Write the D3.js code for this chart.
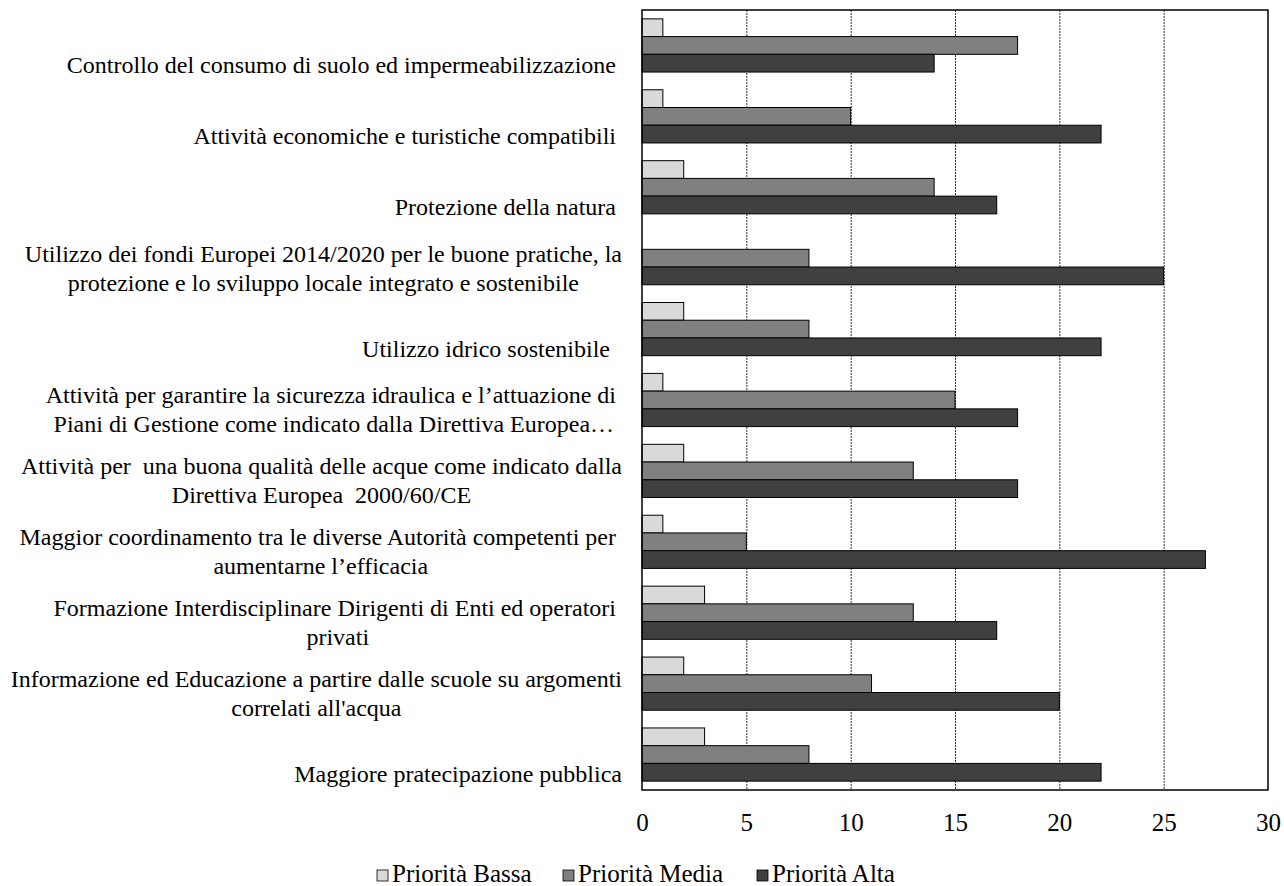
<!DOCTYPE html>
<html>
<head>
<meta charset="utf-8">
<script src="https://cdn.jsdelivr.net/npm/d3@7"></script>
<style>
  html, body { margin: 0; padding: 0; background: #fff; }
  svg text { font-family: "Liberation Serif", "Times New Roman", serif; fill: #000; white-space: pre; }
</style>
</head>
<body>
<svg id="chart" width="1284" height="886"></svg>
<script>
// Survey answers: number of respondents per priority level for each action
const categories = [
  ["Controllo del consumo di suolo ed impermeabilizzazione "],
  ["Attività economiche e turistiche compatibili "],
  ["Protezione della natura "],
  ["Utilizzo dei fondi Europei 2014/2020 per le buone pratiche, la", "protezione e lo sviluppo locale integrato e sostenibile"],
  ["Utilizzo idrico sostenibile  "],
  ["Attività per garantire la sicurezza idraulica e l’attuazione di ", "Piani di Gestione come indicato dalla Direttiva Europea…"],
  ["Attività per  una buona qualità delle acque come indicato dalla", "Direttiva Europea  2000/60/CE"],
  ["Maggior coordinamento tra le diverse Autorità competenti per ", "aumentarne l’efficacia"],
  ["Formazione Interdisciplinare Dirigenti di Enti ed operatori ", "privati"],
  ["Informazione ed Educazione a partire dalle scuole su argomenti", "correlati all'acqua"],
  ["Maggiore pratecipazione pubblica"]
];
const seriesNames = ["Priorità Bassa", "Priorità Media", "Priorità Alta"];
const bassa = [1, 1, 2, 0, 2, 1, 2, 1, 3, 2, 3];
const media = [18, 10, 14, 8, 8, 15, 13, 5, 13, 11, 8];
const alta  = [14, 22, 17, 25, 22, 18, 18, 27, 17, 20, 22];
const xTicks = [0, 5, 10, 15, 20, 25, 30];
const colors = ["#d9d9d9", "#808080", "#404040"];

const series = [bassa, media, alta];
const svg = d3.select("#chart");

const plot = { left: 642, right: 1268, top: 10, bottom: 790 };
const fontSize = 24;

const x = d3.scaleLinear().domain([0, 30]).range([plot.left, plot.right]);
const y = d3.scaleBand().domain(d3.range(categories.length))
  .range([plot.top, plot.bottom]).paddingInner(0.25).paddingOuter(0.125);
const ySub = d3.scaleBand().domain(d3.range(series.length)).range([0, y.bandwidth()]);

// vertical gridlines
svg.append("g").selectAll("line")
  .data(xTicks.filter(t => t > 0 && t < 30))
  .join("line")
  .attr("x1", d => x(d) + 0.5).attr("x2", d => x(d) + 0.5)
  .attr("y1", plot.top).attr("y2", plot.bottom)
  .attr("stroke", "#333").attr("stroke-width", 1).attr("stroke-dasharray", "2,1");

// bars
const groups = svg.append("g").selectAll("g")
  .data(categories.map((c, i) => i))
  .join("g")
  .attr("transform", i => `translate(0,${y(i)})`);

groups.selectAll("rect")
  .data(i => series.map((s, k) => ({ k, v: s[i] })).filter(d => d.v > 0))
  .join("rect")
  .attr("x", x(0))
  .attr("y", d => ySub(d.k))
  .attr("width", d => x(d.v) - x(0))
  .attr("height", ySub.bandwidth())
  .attr("fill", d => colors[d.k])
  .attr("stroke", "#000").attr("stroke-width", 1);

// plot frame
svg.append("rect")
  .attr("x", plot.left).attr("y", plot.top)
  .attr("width", plot.right - plot.left).attr("height", plot.bottom - plot.top)
  .attr("fill", "none").attr("stroke", "#000").attr("stroke-width", 1.5);

// x axis labels
const xAxis = d3.axisBottom(x).tickValues(xTicks).tickSize(0).tickPadding(23);
const gx = svg.append("g").attr("transform", `translate(0,${plot.bottom})`).call(xAxis);
gx.select(".domain").remove();
gx.attr("font-family", null).attr("font-size", null);
gx.selectAll("text").style("font-size", "25px").attr("fill", "#000");

// category labels: lines centred on each other, block right-aligned
const labelRight = 622;
const lineGap = 29;
categories.forEach((lines, i) => {
  const g = svg.append("g");
  const texts = lines.map(t => g.append("text").style("font-size", fontSize + "px").text(t));
  const w = d3.max(texts, t => t.node().getComputedTextLength());
  const cx = labelRight - w / 2;
  const center = y(i) + y.bandwidth() / 2 + (lines.length === 1 ? 20 : 10);
  texts.forEach((t, j) => {
    t.attr("x", cx).attr("text-anchor", "middle")
     .attr("y", center + (j - (lines.length - 1) / 2) * lineGap)
     .attr("dy", "0.33em");
  });
});

// legend (baseline-aligned row under the axis)
const legendX = [377, 563, 757];
const legend = svg.append("g").attr("transform", "translate(0,882)");
seriesNames.forEach((name, k) => {
  legend.append("rect").attr("x", legendX[k]).attr("y", -12).attr("width", 11).attr("height", 11)
    .attr("fill", colors[k]).attr("stroke", "#000").attr("stroke-width", 0.8);
  legend.append("text").attr("x", legendX[k] + 15).attr("y", 0)
    .style("font-size", "25px").text(name);
});
</script>
</body>
</html>
